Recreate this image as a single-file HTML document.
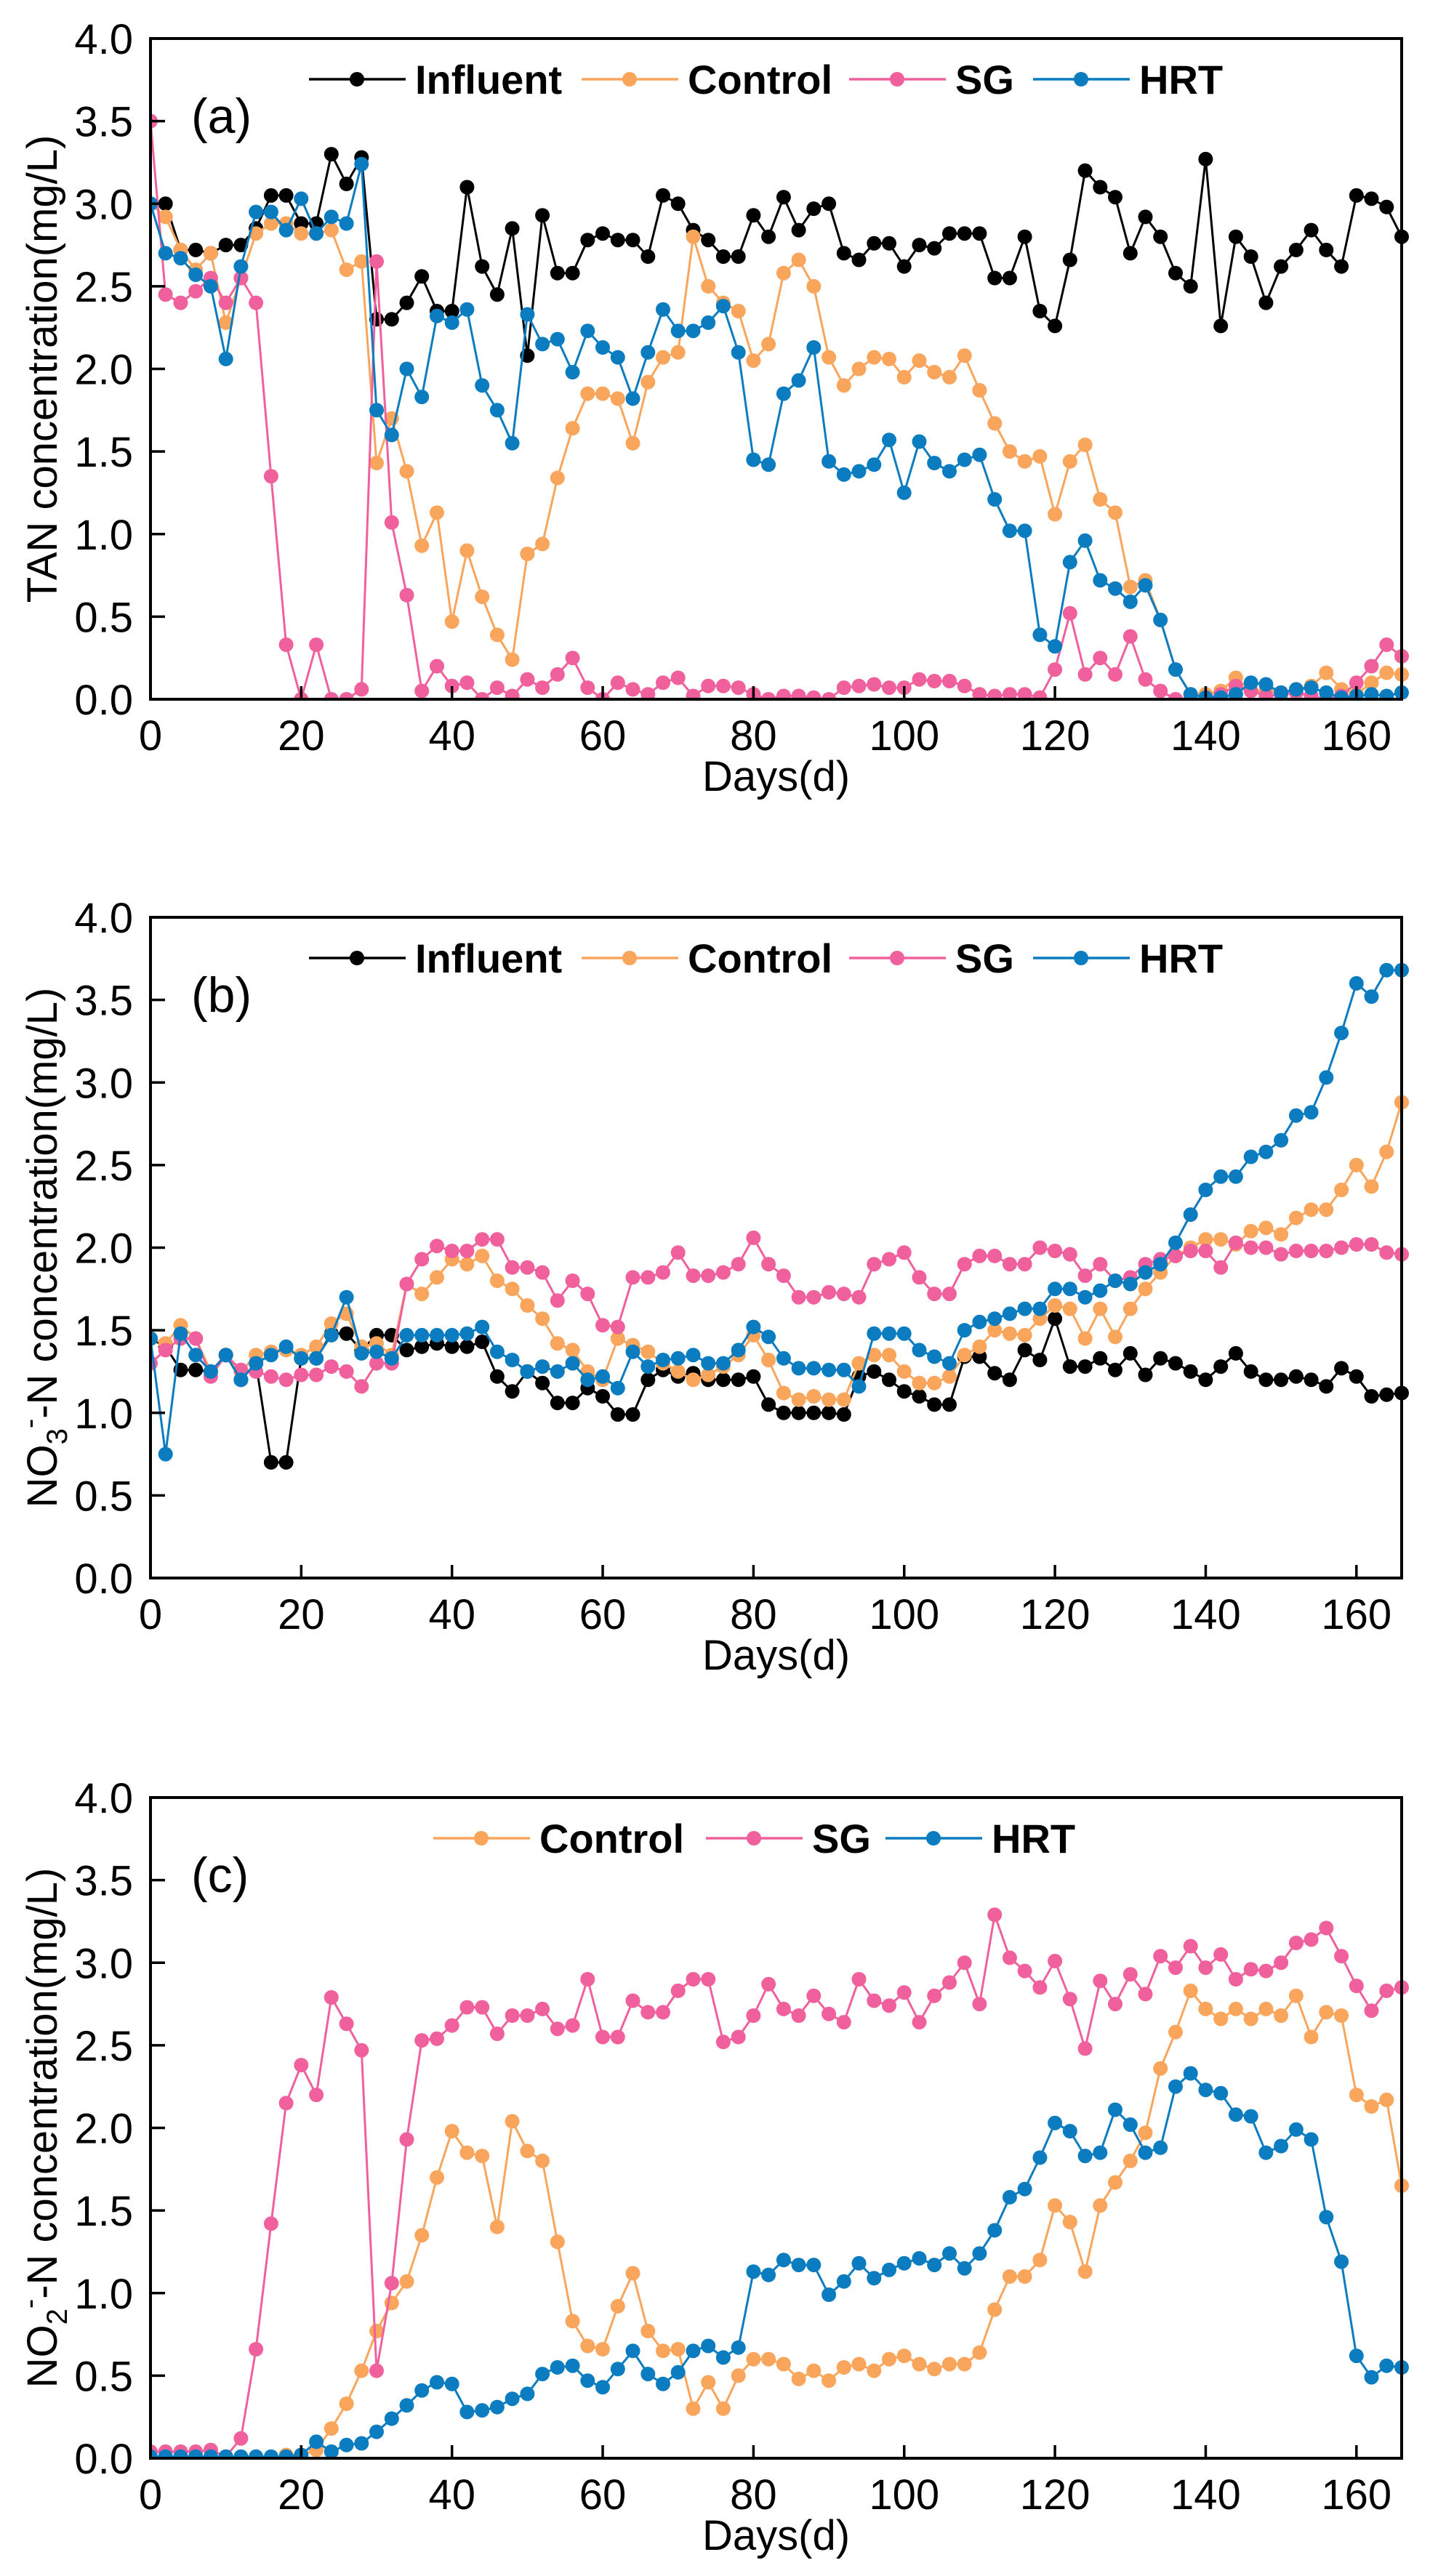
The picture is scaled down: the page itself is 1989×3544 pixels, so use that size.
<!DOCTYPE html>
<html><head><meta charset="utf-8"><style>
html,body{margin:0;padding:0;background:#fff}
svg{display:block}
text{font-family:"Liberation Sans",Arial,sans-serif}
</style></head><body>
<svg id="fig" width="1989" height="3544" viewBox="0 0 1989 3544" xmlns="http://www.w3.org/2000/svg"></svg>
<script>
const days=[0,2,4,6,8,10,12,14,16,18,20,22,24,26,28,30,32,34,36,38,40,42,44,46,48,50,52,54,56,58,60,62,64,66,68,70,72,74,76,78,80,82,84,86,88,90,92,94,96,98,100,102,104,106,108,110,112,114,116,118,120,122,124,126,128,130,132,134,136,138,140,142,144,146,148,150,152,154,156,158,160,162,164,166];
const xTicks=[0,20,40,60,80,100,120,140,160];
const yTicks=[0.0,0.5,1.0,1.5,2.0,2.5,3.0,3.5,4.0];

const aInfluent=[3.0,3.0,2.72,2.72,2.7,2.75,2.75,2.85,3.05,3.05,2.88,2.88,3.3,3.12,3.28,2.3,2.3,2.4,2.56,2.35,2.35,3.1,2.62,2.45,2.85,2.08,2.93,2.58,2.58,2.78,2.82,2.78,2.78,2.68,3.05,3.0,2.84,2.78,2.68,2.68,2.93,2.8,3.04,2.84,2.97,3.0,2.7,2.66,2.76,2.76,2.62,2.75,2.73,2.82,2.82,2.82,2.55,2.55,2.8,2.35,2.26,2.66,3.2,3.1,3.04,2.7,2.92,2.8,2.58,2.5,3.27,2.26,2.8,2.68,2.4,2.62,2.72,2.84,2.72,2.62,3.05,3.03,2.98,2.8];
const aControl=[3.0,2.92,2.72,2.6,2.7,2.28,2.55,2.82,2.88,2.88,2.82,2.82,2.84,2.6,2.65,1.43,1.7,1.38,0.93,1.13,0.47,0.9,0.62,0.39,0.24,0.88,0.94,1.34,1.64,1.85,1.85,1.82,1.55,1.92,2.07,2.1,2.8,2.5,2.4,2.35,2.05,2.15,2.58,2.66,2.5,2.07,1.9,2.0,2.07,2.06,1.95,2.05,1.98,1.95,2.08,1.87,1.67,1.5,1.44,1.47,1.12,1.44,1.54,1.21,1.13,0.68,0.72,0.48,0.18,0.03,0.03,0.05,0.13,0.05,0.05,0.04,0.06,0.08,0.16,0.06,0.03,0.1,0.16,0.15];
const aSG=[3.5,2.45,2.4,2.47,2.55,2.4,2.55,2.4,1.35,0.33,0.0,0.33,0.0,0.0,0.06,2.65,1.07,0.63,0.05,0.2,0.08,0.1,0.0,0.07,0.02,0.12,0.07,0.15,0.25,0.07,0.0,0.1,0.06,0.03,0.1,0.13,0.02,0.08,0.08,0.07,0.03,0.0,0.02,0.02,0.01,0.0,0.07,0.08,0.09,0.07,0.07,0.12,0.11,0.11,0.08,0.03,0.02,0.03,0.03,0.01,0.18,0.52,0.15,0.25,0.15,0.38,0.12,0.05,0.0,0.0,0.0,0.03,0.08,0.05,0.02,0.03,0.04,0.02,0.0,0.02,0.1,0.2,0.33,0.26];
const aHRT=[3.0,2.7,2.67,2.57,2.5,2.06,2.62,2.95,2.95,2.84,3.03,2.82,2.92,2.88,3.24,1.75,1.6,2.0,1.83,2.32,2.28,2.36,1.9,1.75,1.55,2.33,2.15,2.18,1.98,2.23,2.13,2.07,1.82,2.1,2.36,2.23,2.23,2.28,2.38,2.1,1.45,1.42,1.85,1.93,2.13,1.44,1.36,1.38,1.42,1.57,1.25,1.56,1.43,1.38,1.45,1.48,1.21,1.02,1.02,0.39,0.32,0.83,0.96,0.72,0.67,0.59,0.69,0.48,0.18,0.03,0.01,0.01,0.03,0.1,0.09,0.04,0.06,0.07,0.04,0.01,0.02,0.03,0.02,0.04];

const bInfluent=[1.45,1.4,1.26,1.26,1.25,1.35,1.2,1.3,0.7,0.7,1.33,1.33,1.48,1.48,1.38,1.47,1.47,1.38,1.4,1.42,1.4,1.4,1.43,1.22,1.13,1.25,1.18,1.06,1.06,1.15,1.1,0.99,0.99,1.2,1.26,1.22,1.24,1.2,1.2,1.2,1.22,1.05,1.0,1.0,1.0,1.0,0.99,1.22,1.25,1.2,1.13,1.1,1.05,1.05,1.34,1.34,1.24,1.2,1.38,1.32,1.57,1.28,1.28,1.33,1.26,1.36,1.23,1.33,1.3,1.25,1.2,1.28,1.36,1.25,1.2,1.2,1.22,1.2,1.16,1.27,1.22,1.1,1.11,1.12];
const bControl=[1.45,1.42,1.53,1.45,1.25,1.35,1.25,1.35,1.37,1.38,1.35,1.4,1.54,1.6,1.4,1.42,1.35,1.78,1.72,1.82,1.93,1.9,1.95,1.8,1.75,1.65,1.57,1.42,1.38,1.25,1.2,1.45,1.41,1.37,1.3,1.25,1.2,1.23,1.28,1.35,1.47,1.32,1.12,1.08,1.1,1.08,1.08,1.3,1.35,1.35,1.25,1.18,1.18,1.22,1.35,1.4,1.5,1.48,1.47,1.57,1.65,1.63,1.45,1.63,1.46,1.63,1.75,1.85,1.95,2.0,2.05,2.05,2.02,2.1,2.12,2.08,2.18,2.23,2.23,2.35,2.5,2.37,2.58,2.88];
const bSG=[1.3,1.38,1.45,1.45,1.22,1.35,1.26,1.25,1.22,1.2,1.23,1.23,1.28,1.25,1.16,1.3,1.3,1.78,1.93,2.01,1.98,1.98,2.05,2.05,1.88,1.88,1.85,1.68,1.8,1.72,1.53,1.52,1.82,1.82,1.85,1.97,1.83,1.83,1.85,1.9,2.06,1.9,1.83,1.7,1.7,1.73,1.72,1.7,1.9,1.93,1.97,1.82,1.72,1.72,1.9,1.95,1.95,1.9,1.9,2.0,1.98,1.96,1.83,1.9,1.8,1.82,1.9,1.93,1.95,1.98,1.98,1.88,2.03,2.0,2.0,1.96,1.98,1.98,1.98,2.0,2.02,2.02,1.97,1.96];
const bHRT=[1.45,0.75,1.48,1.35,1.25,1.35,1.2,1.3,1.35,1.4,1.33,1.33,1.47,1.7,1.36,1.37,1.33,1.47,1.47,1.47,1.47,1.48,1.52,1.37,1.32,1.25,1.28,1.25,1.3,1.2,1.22,1.15,1.37,1.28,1.32,1.33,1.35,1.3,1.3,1.38,1.52,1.46,1.33,1.27,1.27,1.26,1.26,1.16,1.48,1.48,1.48,1.38,1.34,1.3,1.5,1.55,1.57,1.6,1.63,1.63,1.75,1.75,1.7,1.74,1.8,1.78,1.85,1.9,2.03,2.2,2.35,2.43,2.43,2.55,2.58,2.65,2.8,2.82,3.03,3.3,3.6,3.52,3.68,3.68];

const cControl=[0.0,0.0,0.0,0.0,0.0,0.0,0.0,0.0,0.0,0.02,0.02,0.05,0.18,0.33,0.53,0.77,0.94,1.07,1.35,1.7,1.98,1.85,1.83,1.4,2.04,1.86,1.8,1.31,0.83,0.68,0.66,0.92,1.12,0.77,0.65,0.66,0.3,0.46,0.3,0.5,0.6,0.6,0.57,0.48,0.53,0.47,0.55,0.57,0.53,0.6,0.62,0.57,0.54,0.57,0.57,0.64,0.9,1.1,1.1,1.2,1.53,1.43,1.13,1.53,1.67,1.8,1.97,2.36,2.58,2.83,2.72,2.66,2.72,2.66,2.72,2.68,2.8,2.55,2.7,2.68,2.2,2.13,2.17,1.65];
const cSG=[0.04,0.04,0.04,0.04,0.05,0.01,0.12,0.66,1.42,2.15,2.38,2.2,2.79,2.63,2.47,0.53,1.06,1.93,2.53,2.54,2.62,2.73,2.73,2.57,2.68,2.68,2.72,2.6,2.62,2.9,2.55,2.55,2.77,2.7,2.7,2.83,2.9,2.9,2.52,2.55,2.68,2.87,2.72,2.68,2.8,2.69,2.64,2.9,2.77,2.74,2.82,2.64,2.8,2.88,3.0,2.75,3.29,3.03,2.95,2.85,3.01,2.78,2.48,2.89,2.75,2.93,2.81,3.04,2.97,3.1,2.97,3.05,2.9,2.96,2.95,3.0,3.12,3.14,3.21,3.04,2.86,2.71,2.83,2.85];
const cHRT=[0.01,0.01,0.01,0.01,0.01,0.01,0.01,0.01,0.01,0.01,0.02,0.1,0.04,0.08,0.09,0.16,0.24,0.32,0.41,0.46,0.45,0.28,0.29,0.31,0.36,0.39,0.51,0.55,0.56,0.47,0.43,0.54,0.65,0.51,0.45,0.52,0.65,0.68,0.61,0.67,1.13,1.11,1.2,1.17,1.17,0.99,1.07,1.18,1.09,1.14,1.18,1.21,1.17,1.24,1.15,1.24,1.38,1.58,1.63,1.82,2.03,1.98,1.83,1.85,2.11,2.02,1.85,1.88,2.25,2.33,2.23,2.21,2.08,2.07,1.85,1.89,1.99,1.93,1.46,1.19,0.62,0.49,0.56,0.55];

const COL={Influent:'#000000',Control:'#f9a55c',SG:'#f0609d',HRT:'#0a7cbf'};
const NS='http://www.w3.org/2000/svg';
const svg=document.getElementById('fig');
function mk(tag,attrs,parent){const e=document.createElementNS(NS,tag);for(const k in attrs)e.setAttribute(k,attrs[k]);(parent||svg).appendChild(e);return e;}

const L=207,R=1928,XMAX=166;
function panel(id,top,label,ytitleHTML,series,legendX){
  const B=top+909;
  const g=mk('g',{});
  
  
  const xs=v=>L+(v/XMAX)*(R-L);
  const ys=v=>B-(v/4)*(B-top);
  const cp=mk('clipPath',{id:'clip'+id},g);
  mk('rect',{x:L,y:top-12,width:R-L+12,height:B-top+12},cp);
  series.forEach(s=>{
    const sg=mk('g',{'clip-path':'url(#clip'+id+')'},g);
    
    
    const n=Math.min(days.length,s.vals.length);
    let d='';
    for(let i=0;i<n;i++){d+=(i?'L':'M')+xs(days[i]).toFixed(1)+','+ys(s.vals[i]).toFixed(1);}
    const p=mk('path',{d:d,fill:'none',stroke:COL[s.name],'stroke-width':3,'stroke-linejoin':'round'},sg);
    
    
    for(let i=0;i<n;i++){
      const c=mk('circle',{cx:xs(days[i]).toFixed(1),cy:ys(s.vals[i]).toFixed(1),r:10,fill:COL[s.name]},sg);
      
      
    }
  });
  const fr=mk('rect',{x:L,y:top,width:R-L,height:B-top,fill:'none',stroke:'#000','stroke-width':4},g);
  
  
  yTicks.forEach(t=>{
    const y=ys(t);
    mk('line',{x1:L,x2:L+20,y1:y,y2:y,stroke:'#000','stroke-width':3.5},g);
    const tx=mk('text',{x:183,y:y+21,'text-anchor':'end','font-size':58},g);
    tx.textContent=t.toFixed(1);
    
    
  });
  xTicks.forEach(t=>{
    const x=xs(t);
    mk('line',{x1:x,x2:x,y1:B,y2:B-18,stroke:'#000','stroke-width':3.5},g);
    const tx=mk('text',{x:x,y:B+70,'text-anchor':'middle','font-size':58},g);
    tx.textContent=t;
    
    
  });
  const xt=mk('text',{x:(L+R)/2,y:B+126,'text-anchor':'middle','font-size':58},g);
  xt.textContent='Days(d)';
  
  
  const yt=mk('text',{x:0,y:0,'text-anchor':'middle','font-size':58,transform:'translate(78,'+((top+B)/2)+') rotate(-90)'},g);
  yt.innerHTML=ytitleHTML;
  
  
  const pl=mk('text',{x:263,y:top+130,'font-size':68},g);
  pl.textContent=label;
  
  
  const ly=top+56;
  series.forEach((s,i)=>{
    const lx=legendX[i];
    const lg=mk('g',{},g);
    
    
    mk('line',{x1:lx,x2:lx+133,y1:ly,y2:ly,stroke:COL[s.name],'stroke-width':3.5},lg);
    mk('circle',{cx:lx+66,cy:ly,r:10,fill:COL[s.name]},lg);
    const t=mk('text',{x:lx+146,y:ly+20,'font-size':56,'font-weight':'bold'},lg);
    t.textContent=s.name;
  });
}
panel('a',53,'(a)','TAN concentration(mg/L)',
  [{name:'Influent',vals:aInfluent},{name:'Control',vals:aControl},{name:'SG',vals:aSG},{name:'HRT',vals:aHRT}],
  [425,800,1168,1421]);
panel('b',1262,'(b)','NO<tspan font-size="40" dy="14">3</tspan><tspan font-size="40" dy="-38">-</tspan><tspan dy="24">-N concentration(mg/L)</tspan>',
  [{name:'Influent',vals:bInfluent},{name:'Control',vals:bControl},{name:'SG',vals:bSG},{name:'HRT',vals:bHRT}],
  [425,800,1168,1421]);
panel('c',2473,'(c)','NO<tspan font-size="40" dy="14">2</tspan><tspan font-size="40" dy="-38">-</tspan><tspan dy="24">-N concentration(mg/L)</tspan>',
  [{name:'Control',vals:cControl},{name:'SG',vals:cSG},{name:'HRT',vals:cHRT}],
  [596,971,1218]);
</script>
</body></html>
